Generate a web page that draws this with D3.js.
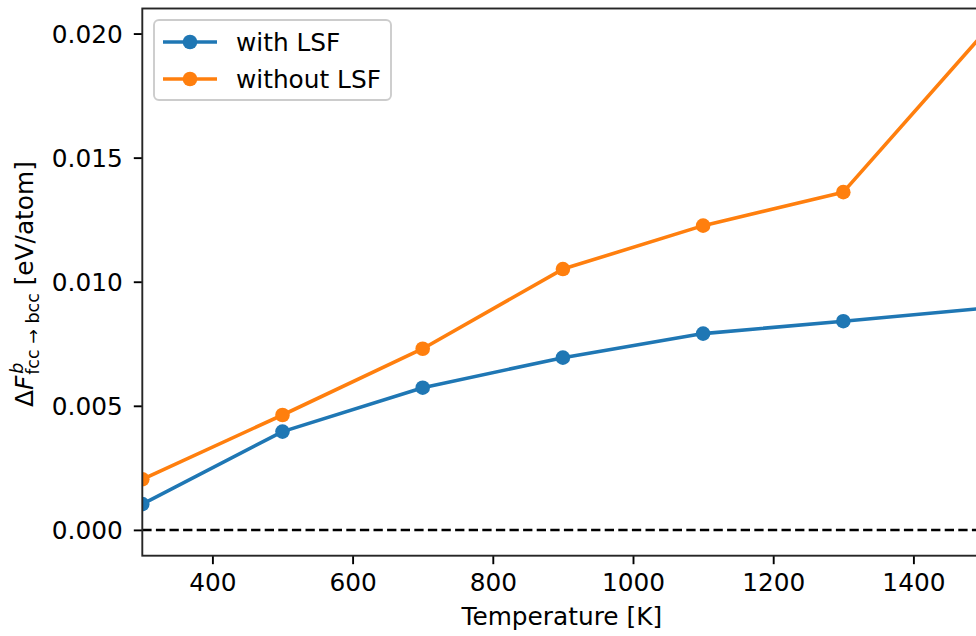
<!DOCTYPE html>
<html>
<head>
<meta charset="utf-8">
<script src="https://cdn.jsdelivr.net/npm/d3@7"></script>
<style>
  body { margin: 0; background: #fff; }
  text { font-family: "DejaVu Sans", sans-serif; fill: #000; }
</style>
</head>
<body>
<div class="chart"></div>
<script>
// Data
const temperatures = [300, 500, 700, 900, 1100, 1300, 1500];
const withLSF = [0.00104, 0.00396, 0.00573, 0.00694, 0.00791, 0.00841, 0.00893];
const withoutLSF = [0.00204, 0.00463, 0.0073, 0.01051, 0.01226, 0.01361, 0.02];
const xTicks = [400, 600, 800, 1000, 1200, 1400];
const yTicks = [0, 0.005, 0.01, 0.015, 0.02];
const seriesNames = ["with LSF", "without LSF"];
const seriesColors = ["#1f77b4", "#ff7f0e"];

// Set H/W/M
const svgWidth = 976;
const svgHeight = 636;

const margin = {
  top: 8.5,
  right: -7.5,
  bottom: 80.3,
  left: 142.3
};

const width = svgWidth - margin.left - margin.right;
const height = svgHeight - margin.top - margin.bottom;

const fontSize = 24.8;

const svg = d3
  .select(".chart")
  .append("svg")
  .attr("width", svgWidth)
  .attr("height", svgHeight);

const chartGroup = svg.append("g")
  .attr("transform", `translate(${margin.left}, ${margin.top})`);

// scales
const xScale = d3.scaleLinear()
  .domain([300, 1500])
  .range([0, width]);

const yScale = d3.scaleLinear()
  .domain([-0.00104, 0.02101])
  .range([height, 0]);

// clip lines and markers to the axes box
svg.append("clipPath")
  .attr("id", "plot-clip")
  .append("rect")
  .attr("width", width)
  .attr("height", height);

// dashed zero line
chartGroup.append("line")
  .attr("x1", 0)
  .attr("x2", width)
  .attr("y1", yScale(0))
  .attr("y2", yScale(0))
  .attr("stroke", "#000")
  .attr("stroke-width", 2.5)
  .attr("stroke-dasharray", "9.3,4.3");

// series
const series = [withLSF, withoutLSF];
const lineGen = d3.line()
  .x((d, i) => xScale(temperatures[i]))
  .y(d => yScale(d));

const plotArea = chartGroup.append("g")
  .attr("clip-path", "url(#plot-clip)");

series.forEach((values, k) => {
  plotArea.append("path")
    .datum(values)
    .attr("fill", "none")
    .attr("stroke", seriesColors[k])
    .attr("stroke-width", 3.6)
    .attr("stroke-linejoin", "round")
    .attr("d", lineGen);

  plotArea.selectAll(`.dot-${k}`)
    .data(values)
    .enter()
    .append("circle")
    .attr("class", `dot-${k}`)
    .attr("cx", (d, i) => xScale(temperatures[i]))
    .attr("cy", d => yScale(d))
    .attr("r", 7.3)
    .attr("fill", seriesColors[k]);
});

// axes
const bottomAxis = d3.axisBottom(xScale)
  .tickValues(xTicks)
  .tickSize(8.5)
  .tickPadding(9)
  .tickFormat(d3.format("d"));

const leftAxis = d3.axisLeft(yScale)
  .tickValues(yTicks)
  .tickSize(8.5)
  .tickPadding(11)
  .tickFormat(d3.format(".3f"));

const xAxis = chartGroup.append("g")
  .attr("transform", `translate(0, ${height})`)
  .call(bottomAxis);

const yAxis = chartGroup.append("g")
  .call(leftAxis);

[xAxis, yAxis].forEach(ax => {
  ax.select(".domain").remove();
  ax.selectAll(".tick line").attr("stroke", "#000").attr("stroke-width", 1.9);
  ax.selectAll(".tick text")
    .attr("font-size", fontSize)
    .attr("font-family", "DejaVu Sans")
    .attr("fill", "#000");
});
yAxis.selectAll(".tick text").attr("dy", "0.36em");

// spines (right one falls outside the picture)
chartGroup.append("rect")
  .attr("width", width)
  .attr("height", height)
  .attr("fill", "none")
  .attr("stroke", "#262626")
  .attr("stroke-width", 1.9);

// x axis label
chartGroup.append("text")
  .attr("x", 419.5)
  .attr("y", height + 69.5)
  .attr("text-anchor", "middle")
  .attr("font-size", fontSize)
  .text("Temperature [K]");

// y axis label with math text
const yLabel = svg.append("text")
  .attr("transform", `translate(33, ${margin.top + height / 2 + 2}) rotate(-90)`)
  .attr("text-anchor", "middle")
  .attr("font-size", fontSize);

yLabel.append("tspan").text("Δ");
yLabel.append("tspan").attr("font-style", "italic").text("F");
const supB = yLabel.append("tspan")
  .attr("font-style", "italic")
  .attr("font-size", 17.5)
  .attr("dx", 2)
  .attr("dy", -10)
  .text("b");
const subT = yLabel.append("tspan")
  .attr("font-size", 17.5)
  .attr("dy", 16)
  .text("fcc → bcc");
yLabel.append("tspan")
  .attr("dy", -6)
  .text("\u00a0[eV/atom]");
// stack the subscript under the superscript
subT.attr("dx", -supB.node().getComputedTextLength() - 1);

// legend
const legend = svg.append("g");
legend.append("rect")
  .attr("x", 154)
  .attr("y", 20)
  .attr("width", 237)
  .attr("height", 80)
  .attr("rx", 5)
  .attr("fill", "#fff")
  .attr("fill-opacity", 0.8)
  .attr("stroke", "#cccccc")
  .attr("stroke-width", 1.9);

seriesNames.forEach((name, k) => {
  const rowY = 42 + k * 37;
  legend.append("line")
    .attr("x1", 163)
    .attr("x2", 217)
    .attr("y1", rowY)
    .attr("y2", rowY)
    .attr("stroke", seriesColors[k])
    .attr("stroke-width", 3.6);
  legend.append("circle")
    .attr("cx", 190)
    .attr("cy", rowY)
    .attr("r", 7.3)
    .attr("fill", seriesColors[k]);
  legend.append("text")
    .attr("x", 236)
    .attr("y", rowY)
    .attr("dy", "0.36em")
    .attr("font-size", fontSize)
    .text(name);
});
</script>
</body>
</html>
